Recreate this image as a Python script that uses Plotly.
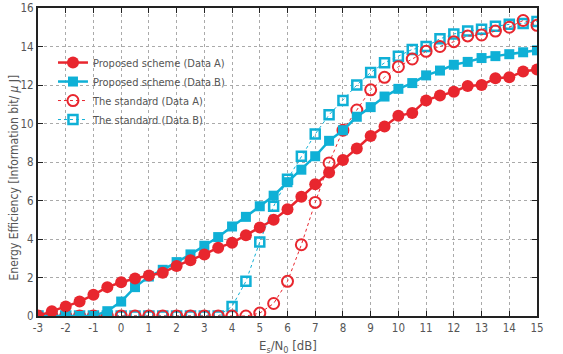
import plotly.graph_objects as go

x = [i * 0.5 for i in range(-6, 31)]

proposed_a = [0, 0.25, 0.5, 0.75, 1.1, 1.5, 1.75, 1.95, 2.1, 2.25, 2.6, 2.9, 3.2, 3.55, 3.8, 4.2,
              4.6, 5.0, 5.55, 6.2, 6.85, 7.45, 8.1, 8.7, 9.35, 9.85, 10.4, 10.55, 11.2, 11.45,
              11.65, 11.95, 12.0, 12.35, 12.4, 12.7, 12.8]
proposed_b = [0, 0, 0, 0, 0, 0.25, 0.75, 1.5, 2.05, 2.4, 2.8, 3.2, 3.65, 4.1, 4.65, 5.15,
              5.7, 6.25, 6.95, 7.6, 8.3, 9.1, 9.65, 10.35, 10.85, 11.4, 11.8, 12.1, 12.5, 12.75,
              13.05, 13.2, 13.4, 13.5, 13.6, 13.7, 13.8]
standard_a = [0, 0, 0, 0, 0, 0, 0, 0, 0, 0, 0, 0, 0, 0, 0, 0,
              0.15, 0.65, 1.8, 3.7, 5.9, 7.95, 9.65, 10.7, 11.75, 12.4, 12.95, 13.35, 13.75, 14.0,
              14.25, 14.55, 14.6, 14.8, 15.0, 15.35, 15.1]
standard_b = [0, 0, 0, 0, 0, 0, 0, 0, 0, 0, 0, 0, 0, 0, 0.5, 1.8,
              3.85, 5.7, 7.1, 8.3, 9.45, 10.45, 11.2, 12.0, 12.65, 13.15, 13.5, 13.85, 14.0, 14.4,
              14.65, 14.8, 14.9, 15.05, 15.15, 15.2, 15.3]

x_tickvals = list(range(-3, 16))
x_ticktext = [str(v) for v in x_tickvals]

x_title = "E<sub>s</sub>/N<sub>0</sub> [dB]"
y_title = "Energy Efficiency [Information bit/ <i>μ</i> J]"

RED = "#e8262e"
CYAN = "#0fb0d6"
FONT = "DejaVu Sans Condensed, Liberation Sans Narrow, Liberation Sans, sans-serif"

fig = go.Figure()
fig.add_trace(go.Scatter(x=x, y=standard_b, mode="lines+markers", name="The standard (Data B)",
                         line=dict(color=CYAN, width=1, dash="dot"),
                         marker=dict(symbol="square-open", size=9, color=CYAN, line=dict(width=2.5))))
fig.add_trace(go.Scatter(x=x, y=standard_a, mode="lines+markers", name="The standard (Data A)",
                         line=dict(color=RED, width=1, dash="dot"),
                         marker=dict(symbol="circle-open", size=11, color=RED, line=dict(width=2))))
fig.add_trace(go.Scatter(x=x, y=proposed_b, mode="lines+markers", name="Proposed scheme (Data B)",
                         line=dict(color=CYAN, width=2.5),
                         marker=dict(symbol="square", size=10, color=CYAN)))
fig.add_trace(go.Scatter(x=x, y=proposed_a, mode="lines+markers", name="Proposed scheme (Data A)",
                         line=dict(color=RED, width=2.5),
                         marker=dict(symbol="circle", size=12, color=RED)))

axis_common = dict(showline=True, linecolor="#222", linewidth=2, mirror="ticks",
                   ticks="inside", ticklen=5, tickcolor="#222",
                   showgrid=True, gridcolor="#aaa", griddash="dot", gridwidth=1,
                   zeroline=False, tickfont=dict(family=FONT, size=11.5, color="#555"),
                   automargin=False)

fig.update_layout(
    width=563, height=354,
    margin=dict(l=38, r=26, t=8, b=38, autoexpand=False),
    plot_bgcolor="white", paper_bgcolor="white",
    font=dict(family=FONT, color="#555"),
    legend=dict(x=0.03, y=0.87, xanchor="left", yanchor="top", traceorder="reversed",
                bgcolor="rgba(255,255,255,0)", font=dict(family=FONT, size=11, color="#555"),
                itemwidth=30, tracegroupgap=0),
    xaxis=dict(range=[-3, 15], tickmode="array", tickvals=x_tickvals, ticktext=x_ticktext,
               **axis_common),
    yaxis=dict(range=[0, 16], dtick=2, **axis_common),
    showlegend=True,
    annotations=[
        dict(text=x_title, xref="paper", yref="paper", x=0.5, y=-0.065, xanchor="center",
             yanchor="top", showarrow=False, font=dict(family=FONT, size=13, color="#555")),
        dict(text=y_title, xref="paper", yref="paper", x=-0.048, y=0.45, xanchor="center",
             yanchor="middle", textangle=-90, showarrow=False,
             font=dict(family=FONT, size=12, color="#555")),
    ],
)
fig.write_html("out.html")
